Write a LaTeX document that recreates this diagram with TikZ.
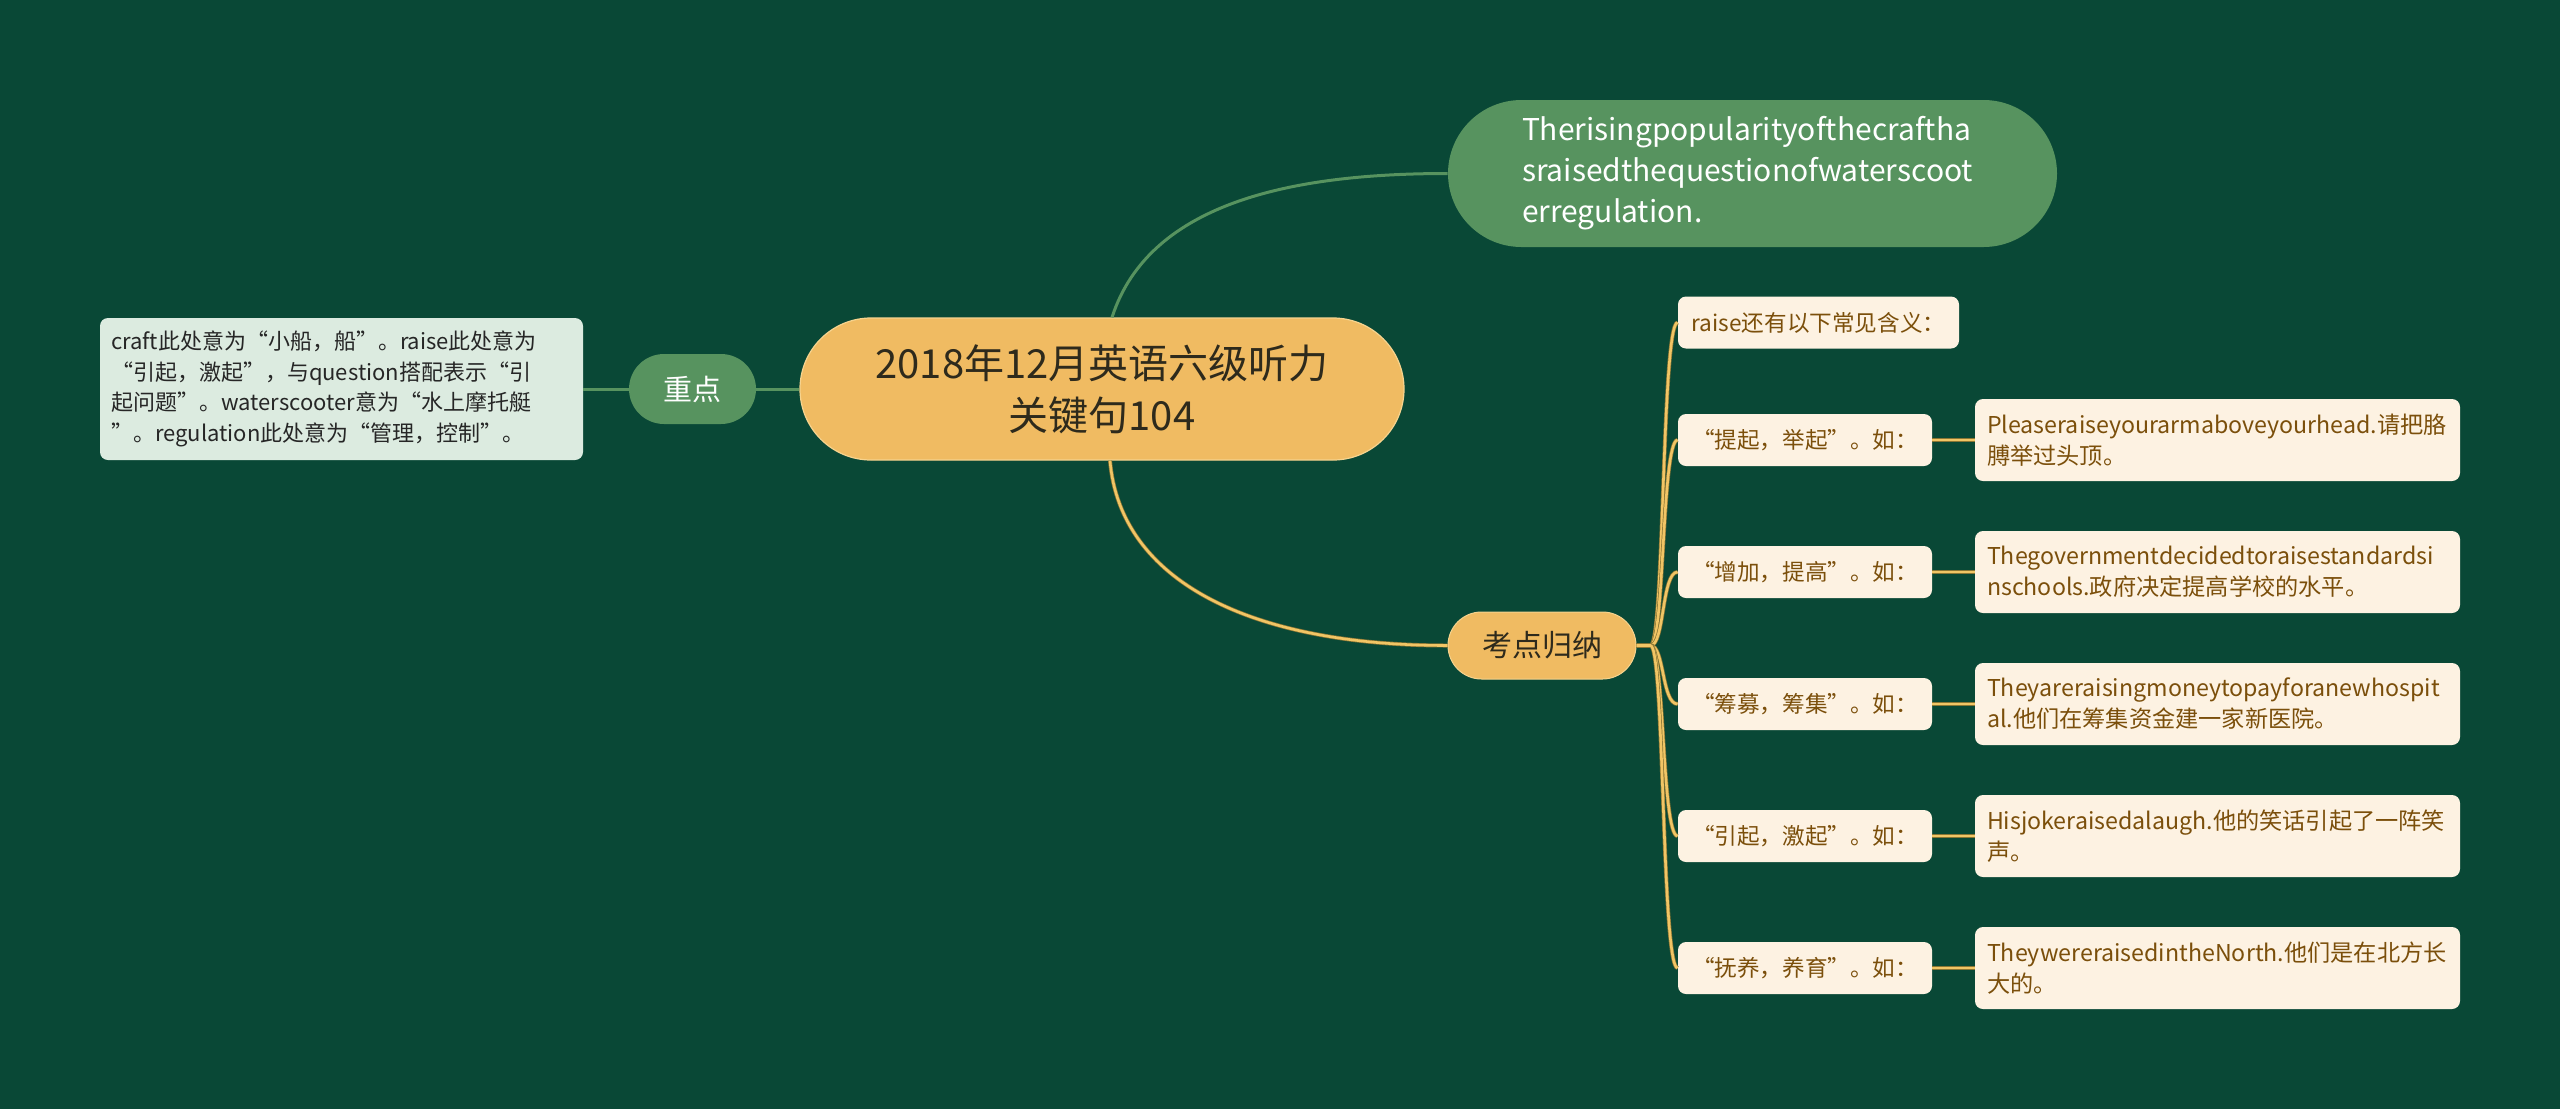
\documentclass[tikz,border=0pt]{standalone}
\usepackage{fontspec}
\setmainfont{Noto Sans CJK SC}
\usetikzlibrary{calc}
\definecolor{bgc}{HTML}{094836}
\definecolor{gnode}{HTML}{57935F}
\definecolor{onode}{HTML}{F0BB62}
\definecolor{oborder}{HTML}{F6D38E}
\definecolor{cream}{HTML}{FDF2E2}
\definecolor{mint}{HTML}{DCEBE0}
\definecolor{browntxt}{HTML}{7B4F0B}
\definecolor{darktxt}{HTML}{2E2A1C}
\definecolor{yline}{HTML}{F1C565}
\definecolor{yedge}{HTML}{8A7634}
\begin{document}
\begin{tikzpicture}[x=0.5pt,y=-0.5pt,
  gline/.style={draw=gnode, line width=1.5pt},
  yl/.style={draw=yedge, line width=0.35pt, double=yline, double distance=1.3pt},
  rootnode/.style={rectangle, fill=onode, draw=oborder, line width=0.6pt, minimum width=302pt, minimum height=71pt, rounded corners=35.5pt, align=center, text=darktxt, font=\fontsize{20}{26}\selectfont, inner sep=0pt},
  topnode/.style={rectangle, fill=gnode, minimum width=304.5pt, minimum height=73.5pt, rounded corners=36.75pt, text width=230.5pt, inner xsep=37pt, inner ysep=0pt, align=left, text=white, font=\fontsize{15}{20.5}\selectfont},
  gpill/.style={rectangle, fill=gnode, minimum width=63.5pt, minimum height=35pt, rounded corners=17.5pt, text=white, font=\fontsize{14.5}{18}\selectfont, inner sep=0pt},
  opill/.style={rectangle, fill=onode, draw=oborder, line width=0.5pt, minimum width=94pt, minimum height=33.5pt, rounded corners=16.75pt, text=darktxt, font=\fontsize{15}{18}\selectfont, inner sep=0pt},
  notebox/.style={rectangle, fill=mint, minimum width=241.5pt, minimum height=71pt, rounded corners=4pt, text width=230.5pt, inner xsep=5.5pt, inner ysep=0pt, align=left, text=black!85, font=\fontsize{11}{15.3}\selectfont},
  labelbox/.style={rectangle, fill=cream, minimum width=127pt, minimum height=26pt, rounded corners=4pt, text=browntxt, align=center, inner sep=0pt, font=\fontsize{11.3}{14}\selectfont},
  exbox/.style={rectangle, fill=cream, minimum width=242.5pt, minimum height=41pt, rounded corners=4pt, text width=230.5pt, inner xsep=6pt, inner ysep=0pt, align=left, text=browntxt, font=\fontsize{11.6}{15.5}\selectfont}
]
\fill[bgc] (0,0) rectangle (2560,1109);
\useasboundingbox (0,0) rectangle (2560,1109);

% nodes
\node[rootnode] (root) at (1102,389) {2018年12月英语六级听力\\关键句104};
\node[topnode] (top) at (1752.5,173.5) {Therisingpopularityofthecraftha\\sraisedthequestionofwaterscoot\\erregulation.};
\node[gpill] (zd) at (692.5,389) {重点};
\node[notebox] (note) at (341.5,389) {craft此处意为“小船，船”。raise此处意为\\“引起，激起”，与question搭配表示“引\\起问题”。waterscooter意为“水上摩托艇\\”。regulation此处意为“管理，控制”。};
\node[opill] (kd) at (1542,645.5) {考点归纳};

\node[labelbox, minimum width=140.5pt] (l0) at (1818.5,322.5) {raise还有以下常见含义：};
\node[labelbox] (l1) at (1805,440) {“提起，举起”。如：};
\node[labelbox] (l2) at (1805,572) {“增加，提高”。如：};
\node[labelbox] (l3) at (1805,704) {“筹募，筹集”。如：};
\node[labelbox] (l4) at (1805,836) {“引起，激起”。如：};
\node[labelbox] (l5) at (1805,968) {“抚养，养育”。如：};

\node[exbox] (e1) at (2217.5,440) {Pleaseraiseyourarmaboveyourhead.请把胳\\膊举过头顶。};
\node[exbox] (e2) at (2217.5,572) {Thegovernmentdecidedtoraisestandardsi\\nschools.政府决定提高学校的水平。};
\node[exbox] (e3) at (2217.5,704) {Theyareraisingmoneytopayforanewhospit\\al.他们在筹集资金建一家新医院。};
\node[exbox] (e4) at (2217.5,836) {Hisjokeraisedalaugh.他的笑话引起了一阵笑\\声。};
\node[exbox] (e5) at (2217.5,968) {TheywereraisedintheNorth.他们是在北方长\\大的。};

% connectors
\draw[gline] (root.west) -- (zd.east);
\draw[gline] (zd.west) -- (note.east);
\draw[gline] ($(root.north)+(10,0)$) .. controls +(38,-118) and +(-148,0) .. (top.west);
\draw[yl] ($(root.south)+(8,0)$) .. controls +(10,120) and +(-198,0) .. (kd.west);

\foreach \n in {l0,l1,l2,l3,l4,l5}{
  \draw[yl] (kd.east) -- ++(14,0) .. controls +(14,0) and +(-16,0) .. (\n.west);
}
\draw[yl] (l1.east) -- (e1.west);
\draw[yl] (l2.east) -- (e2.west);
\draw[yl] (l3.east) -- (e3.west);
\draw[yl] (l4.east) -- (e4.west);
\draw[yl] (l5.east) -- (e5.west);
\end{tikzpicture}
\end{document}
